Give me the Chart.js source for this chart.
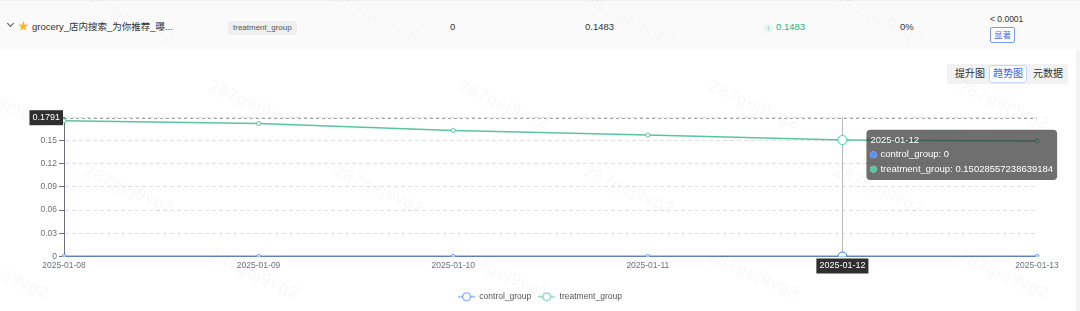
<!DOCTYPE html>
<html>
<head>
<meta charset="utf-8">
<script src="https://cdn.jsdelivr.net/npm/chart.js"></script>
<style>
  html, body { margin: 0; padding: 0; background: #fff; }
  body { width: 1080px; height: 311px; position: relative; overflow: hidden;
         font-family: "Liberation Sans", "Noto Sans CJK SC", sans-serif; color: #333; }
  .row { position: absolute; left: 0; top: 0; width: 1080px; height: 50px; background: #fafafa;
         border-top: 1px solid #f0f0f0; box-sizing: border-box; font-size: 9.5px; }
  .row span { position: absolute; white-space: nowrap; line-height: 12px; }
  .chev { position: absolute; left: 8px; top: 20px; width: 4px; height: 4px;
          border-right: 1px solid #555; border-bottom: 1px solid #555; transform: rotate(45deg); }
  .tag { background: #efefef; color: #555; font-size: 8px; padding: 1px 5px; border-radius: 2px; }
  .sig { border: 1px solid #7d9af5; color: #4e6ef2; font-size: 8.5px; padding: 1px 3px; border-radius: 2px; background: #fff; }
  .up { display: inline-block; width: 9px; height: 9px; border-radius: 50%; background: #e3f6ef; color: #1eb387;
        font-size: 7px; line-height: 9px; text-align: center; margin-right: 3px; vertical-align: -1px; font-style: normal; }
  .tabs { position: absolute; left: 947px; top: 64px; height: 20px; width: 121px; background: #f2f2f2;
          border-radius: 3px; font-size: 10px; }
  .tabs span { position: absolute; top: 0; line-height: 20px; color: #333; }
  .tabs .on { top: 1px; background: #fff; border: 1px solid #c9d4fb; color: #3d5ef0; border-radius: 3px;
              line-height: 16px; padding: 0 3px; }
  #wrap { position: absolute; left: 0; top: 90px; width: 1080px; height: 221px; }
  .edge { position: absolute; right: 0; top: 50px; width: 4px; height: 261px; background: #f3f3f3; }
  .wm { position: absolute; font-size: 17px; color: rgba(0,0,0,0.03); transform: rotate(24deg);
        pointer-events: none; white-space: nowrap; letter-spacing: 1px; }
</style>
</head>
<body>
<div class="row">
  <i class="chev"></i>
  <span style="left:18px;top:19px;color:#f7b52c;font-size:11px;">&#9733;</span>
  <span style="left:32px;top:20px;">grocery_店内搜索_为你推荐_曝...</span>
  <span class="tag" style="left:228px;top:20px;">treatment_group</span>
  <span style="left:450px;top:20px;">0</span>
  <span style="left:585px;top:20px;">0.1483</span>
  <span style="left:764px;top:20px;color:#1eb387;"><i class="up">&#8593;</i>0.1483</span>
  <span style="left:900px;top:20px;">0%</span>
  <span style="left:990px;top:12px;font-size:8.5px;">&lt; 0.0001</span>
  <span class="sig" style="left:990px;top:26px;">显著</span>
</div>
<div class="tabs">
  <span style="left:8px;">提升图</span>
  <span class="on" style="left:42px;">趋势图</span>
  <span style="left:86px;">元数据</span>
</div>
<div class="edge"></div>
<div id="wrap"><canvas id="trend"></canvas></div>
<div id="marks"></div>
<script>
// data
const dates = ['2025-01-08', '2025-01-09', '2025-01-10', '2025-01-11', '2025-01-12', '2025-01-13'];
const controlGroup = [0, 0, 0, 0, 0, 0];
const treatmentGroup = [0.1751, 0.1716, 0.1626, 0.1567, 0.15028557238639184, 0.1490];
const yMax = 0.18;
const yStep = 0.03;
const activeIndex = 4;       // hovered date
const pointerValue = 0.1791; // value at cursor height

const blue = '#5b8ff9';
const green = '#5bc49f';

Chart.defaults.font.family = '"Liberation Sans", "Noto Sans CJK SC", sans-serif';
Chart.defaults.font.size = 8.5;
Chart.defaults.color = '#6e7079';

// little "-o-" icon for the legend
function legendIcon(color) {
  const c = document.createElement('canvas');
  c.width = 17; c.height = 10;
  const g = c.getContext('2d');
  g.strokeStyle = color; g.lineWidth = 1;
  g.beginPath(); g.moveTo(0, 5); g.lineTo(17, 5); g.stroke();
  g.beginPath(); g.arc(8.5, 5, 4, 0, Math.PI * 2);
  g.fillStyle = '#fff'; g.fill(); g.stroke();
  return c;
}

Chart.Tooltip.positioners.crossRight = function (items) {
  if (!items.length) return false;
  const chart = this.chart;
  return {
    x: items[0].element.x + 28,
    y: chart.scales.y.getPixelForValue(pointerValue) + 12,
    xAlign: 'left',
    yAlign: 'top'
  };
};

function box(ctx, text, cx, cy, align) {
  ctx.font = '9px "Liberation Sans", sans-serif';
  const w = ctx.measureText(text).width + 6;
  const h = 15;
  const left = align === 'right' ? cx - w : cx - w / 2;
  ctx.fillStyle = '#2f2f2f';
  ctx.fillRect(left, cy - h / 2, w, h);
  ctx.fillStyle = '#fff';
  ctx.textAlign = 'center';
  ctx.textBaseline = 'middle';
  ctx.fillText(text, left + w / 2, cy);
}

const crosshair = {
  id: 'crosshair',
  beforeDatasetsDraw(chart) {
    const { ctx, chartArea, scales: { x, y } } = chart;
    const px = x.getPixelForValue(activeIndex);
    const py = y.getPixelForValue(pointerValue);
    ctx.save();
    ctx.strokeStyle = '#b8b8b8';
    ctx.lineWidth = 1;
    ctx.beginPath();
    ctx.moveTo(Math.round(px) + 0.5, py);
    ctx.lineTo(Math.round(px) + 0.5, chartArea.bottom);
    ctx.stroke();
    ctx.strokeStyle = '#a0a0a0';
    ctx.setLineDash([3, 3]);
    ctx.beginPath();
    ctx.moveTo(chartArea.left, Math.round(py) + 0.5);
    ctx.lineTo(chartArea.right, Math.round(py) + 0.5);
    ctx.stroke();
    ctx.restore();
  },
  afterDatasetsDraw(chart) {
    const { ctx, chartArea, scales: { x, y } } = chart;
    const px = x.getPixelForValue(activeIndex);
    const py = y.getPixelForValue(pointerValue);
    ctx.save();
    box(ctx, String(pointerValue), chartArea.left - 1, py, 'right');
    box(ctx, dates[activeIndex], px, chartArea.bottom + 9.5, 'center');
    ctx.restore();
  }
};

const chart = new Chart(document.getElementById('trend').getContext('2d'), {
  type: 'line',
  data: {
    labels: dates,
    datasets: [
      {
        label: 'control_group',
        data: controlGroup,
        borderColor: blue,
        backgroundColor: '#fff',
        borderWidth: 2,
        pointRadius: 2,
        pointBorderWidth: 1,
        pointHoverRadius: 4.5,
        pointHoverBorderWidth: 1,
        pointHoverBackgroundColor: '#fff',
        tension: 0
      },
      {
        label: 'treatment_group',
        data: treatmentGroup,
        borderColor: green,
        backgroundColor: '#fff',
        borderWidth: 1.5,
        pointRadius: 2,
        pointBorderWidth: 1,
        pointHoverRadius: 4.5,
        pointHoverBorderWidth: 1,
        pointHoverBackgroundColor: '#fff',
        tension: 0
      }
    ]
  },
  options: {
    responsive: true,
    maintainAspectRatio: false,
    animation: false,
    events: [],
    layout: { padding: { left: 0, right: 0, top: 27, bottom: 0 } },
    interaction: { mode: 'index', intersect: false },
    scales: {
      x: {
        grid: { display: false, drawTicks: false },
        border: { display: true, color: '#6e7079' },
        ticks: { padding: 4, maxRotation: 0, autoSkip: false },
        afterFit(scale) { scale.height = 29; }
      },
      y: {
        min: 0,
        max: yMax,
        grid: { color: '#e0e0e0', tickLength: 5, tickColor: '#6e7079', tickBorderDash: [] },
        border: { display: true, color: '#6e7079', dash: [4, 3] },
        ticks: { stepSize: yStep, padding: 2 },
        afterFit(scale) { scale.width = 64; }
      },
      // empty right-hand spacer so the plot ends where the reference does
      yRight: {
        position: 'right',
        min: 0,
        max: yMax,
        grid: { display: false },
        border: { display: false },
        ticks: { display: false },
        afterFit(scale) { scale.width = 43; }
      }
    },
    plugins: {
      legend: {
        position: 'bottom',
        labels: {
          usePointStyle: true,
          pointStyleWidth: 17,
          color: '#555',
          padding: 7,
          generateLabels(c) {
            return c.data.datasets.map((ds, i) => ({
              text: ds.label,
              pointStyle: legendIcon(ds.borderColor),
              fillStyle: '#fff',
              strokeStyle: ds.borderColor,
              lineWidth: 0,
              fontColor: '#555',
              hidden: false,
              datasetIndex: i
            }));
          }
        }
      },
      tooltip: {
        position: 'crossRight',
        backgroundColor: 'rgba(50,50,50,0.7)',
        titleColor: '#fff',
        bodyColor: '#fff',
        titleFont: { size: 9.5, weight: 'normal' },
        bodyFont: { size: 9.5 },
        titleMarginBottom: 3,
        bodySpacing: 3,
        padding: { x: 4, y: 5 },
        cornerRadius: 4,
        caretSize: 0,
        caretPadding: 0,
        usePointStyle: true,
        boxWidth: 6,
        boxHeight: 6,
        boxPadding: 2,
        callbacks: {
          label: (ctx) => ctx.dataset.label + ': ' + ctx.raw,
          labelColor: (ctx) => ({ borderColor: ctx.dataset.borderColor, backgroundColor: ctx.dataset.borderColor }),
          labelPointStyle: () => ({ pointStyle: 'circle', rotation: 0 })
        }
      }
    }
  },
  plugins: [crosshair]
});

const active = [{ datasetIndex: 0, index: activeIndex }, { datasetIndex: 1, index: activeIndex }];
chart.setActiveElements(active);
chart.tooltip.setActiveElements(active, {
  x: chart.scales.x.getPixelForValue(activeIndex),
  y: chart.scales.y.getPixelForValue(pointerValue)
});
chart.update();

// faint watermark text
const marks = document.getElementById('marks');
for (let r = 0; r < 4; r++) {
  for (let k = 0; k < 6; k++) {
    const s = document.createElement('div');
    s.className = 'wm';
    s.textContent = '287gej9vg2';
    s.style.left = (k * 250 + 80 - (r % 2) * 125) + 'px';
    s.style.top = (r * 85 + 10) + 'px';
    marks.appendChild(s);
  }
}
</script>
</body>
</html>
